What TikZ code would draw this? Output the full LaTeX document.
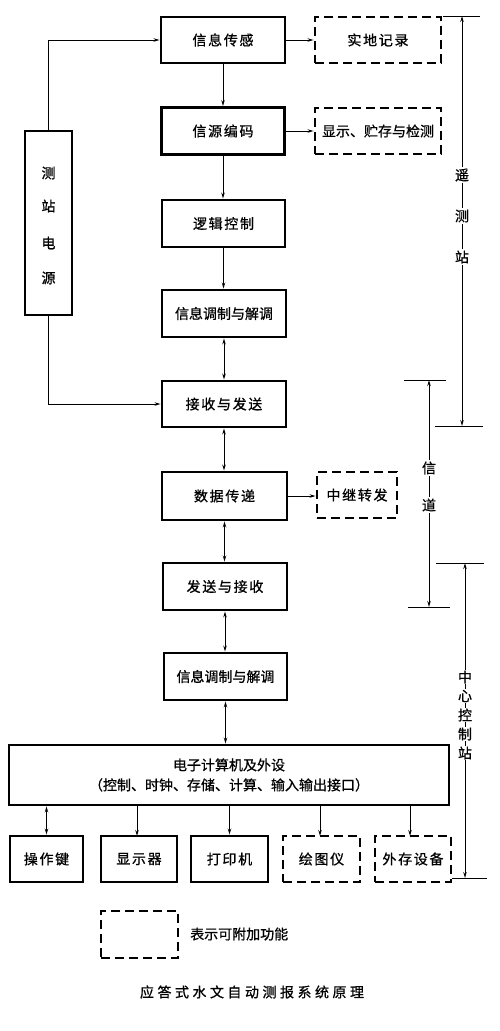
\documentclass[tikz,border=0pt]{standalone}
\usepackage{fontspec}
\newfontfamily\cjk[FakeBold=0.8]{Noto Sans CJK SC}
\newfontfamily\cjksp[LetterSpace=12,FakeBold=0.8]{Noto Sans CJK SC}
\usetikzlibrary{arrows.meta}
\tikzset{
  every node/.style={font=\cjk\fontsize{14}{17}\selectfont},
  box/.style={draw, line width=2.8pt, inner sep=0pt, align=center, font=\cjksp\fontsize{14}{17}\selectfont},
  dbox/.style={box, dash pattern=on 9pt off 5pt},
  conn/.style={line width=1pt},
  arr/.style={conn, -{Stealth[length=6pt,width=3.4pt]}},
  darr/.style={conn, {Stealth[length=6pt,width=3.4pt]}-{Stealth[length=6pt,width=3.4pt]}},
  lab/.style={fill=white, inner sep=1.5pt},
}
\begin{document}
\begin{tikzpicture}[x=1pt,y=-1pt]
\useasboundingbox (0,0) rectangle (500,1031);
% main column
\node[box, minimum width=124pt, minimum height=46pt] (n1) at (223,40) {信息传感};
\node[box, minimum width=123pt, minimum height=47pt] (n2) at (223,131) {信源编码};
\node[box, minimum width=123pt, minimum height=47pt] (n3) at (223.5,223.5) {逻辑控制};
\node[box, minimum width=124pt, minimum height=47pt, font=\cjk\fontsize{14}{17}\selectfont] (n4) at (224,313.5) {信息调制与解调};
\node[box, minimum width=124pt, minimum height=46pt] (n5) at (224,404) {接收与发送};
\node[box, minimum width=125pt, minimum height=48pt] (n6) at (224.5,496) {数据传递};
\node[box, minimum width=124pt, minimum height=47pt] (n7) at (225,586.5) {发送与接收};
\node[box, minimum width=123pt, minimum height=47pt, font=\cjk\fontsize{14}{17}\selectfont] (n8) at (225.5,676.5) {信息调制与解调};
\node[box, minimum width=440pt, minimum height=60pt, font=\cjk\fontsize{14}{20}\selectfont] (n9) at (229,775) {电子计算机及外设\\（控制、时钟、存储、计算、输入输出接口）};
% dashed side boxes
\node[dbox, minimum width=126pt, minimum height=46pt] (d1) at (378,40) {实地记录};
\node[dbox, minimum width=126pt, minimum height=46pt, font=\cjk\fontsize{14}{17}\selectfont] (d2) at (378,131) {显示、贮存与检测};
\node[dbox, minimum width=80pt, minimum height=46pt] (d3) at (357,495) {中继转发};
% power
\node[box, minimum width=47pt, minimum height=184pt] (ps) at (48.5,223) {};
\node (p1) at (48.5,173) {测};
\node (p2) at (48.5,206) {站};
\node (p3) at (48.5,243) {电};
\node (p4) at (48.5,278) {源};
% bottom boxes
\node[box, minimum width=73pt, minimum height=46pt] (b1) at (46.5,859) {操作键};
\node[box, minimum width=76pt, minimum height=46pt] (b2) at (139,859) {显示器};
\node[box, minimum width=77pt, minimum height=46pt] (b3) at (229.5,859) {打印机};
\node[dbox, minimum width=77pt, minimum height=46pt] (b4) at (321.5,859) {绘图仪};
\node[dbox, minimum width=76pt, minimum height=46pt] (b5) at (413,859) {外存设备};
% legend
\node[dbox, minimum width=77pt, minimum height=47pt] (lg) at (139.5,934.5) {};
\node[anchor=west, inner sep=0pt] (lgt) at (190,934) {表示可附加功能};
\node[font=\cjk\fontsize{14}{17}\selectfont\addfontfeature{LetterSpace=25}] (cap) at (252,992) {应答式水文自动测报系统原理};
% main connectors
\draw[arr] (n1.south) -- (n1.south |- n2.north);
\draw[arr] (n2.south) -- (n2.south |- n3.north);
\draw[arr] (n3.south) -- (n3.south |- n4.north);
\draw[darr] (n4.south) -- (n4.south |- n5.north);
\draw[darr] (n5.south) -- (n5.south |- n6.north);
\draw[darr] (n6.south) -- (n6.south |- n7.north);
\draw[darr] (n7.south) -- (n7.south |- n8.north);
\draw[darr] (n8.south) -- (n8.south |- n9.north);
\draw[arr] (n1.east) -- (n1.east -| d1.west);
\draw[arr] (n2.east) -- (n2.east -| d2.west);
\draw[arr] (n6.east) -- (n6.east -| d3.west);
\draw[arr] (ps.north) |- (n1.west);
\draw[arr] (ps.south) |- (n5.west);
\draw[darr] (b1.north |- n9.south) -- (b1.north);
\draw[arr] (137,805) -- (137,836);
\draw[arr] (b3.north |- n9.south) -- (b3.north);
\draw[arr] (320,805) -- (320,836);
\draw[arr] (410,805) -- (410,836);
% right brackets
\coordinate (ya) at (462,16); \coordinate (yb) at (462,426);
\draw[conn] (443,16) -- (480,16);
\draw[conn] (435,426) -- (483,426);
\draw[darr] (ya) -- (yb);
\node[lab] (yt1) at (462,175) {遥};
\node[lab] (yt2) at (462,216) {测};
\node[lab] (yt3) at (462,257) {站};
\coordinate (xa) at (429,380); \coordinate (xb) at (429,607);
\draw[conn] (404,380) -- (446,380);
\draw[conn] (408,607) -- (450,607);
\draw[darr] (xa) -- (xb);
\node[lab] (xt1) at (429,468) {信};
\node[lab] (xt2) at (429,505) {道};
\coordinate (za) at (465,563); \coordinate (zb) at (465,878);
\draw[conn] (436,563) -- (484,563);
\draw[conn] (452,878) -- (487,878);
\draw[darr] (za) -- (zb);
\node[lab, inner sep=0.5pt] (zt1) at (465,677) {中};
\node[lab, inner sep=0.5pt] (zt2) at (465,696) {心};
\node[lab, inner sep=0.5pt] (zt3) at (465,715) {控};
\node[lab, inner sep=0.5pt] (zt4) at (465,734) {制};
\node[lab, inner sep=0.5pt] (zt5) at (465,753) {站};
\end{tikzpicture}
\end{document}
